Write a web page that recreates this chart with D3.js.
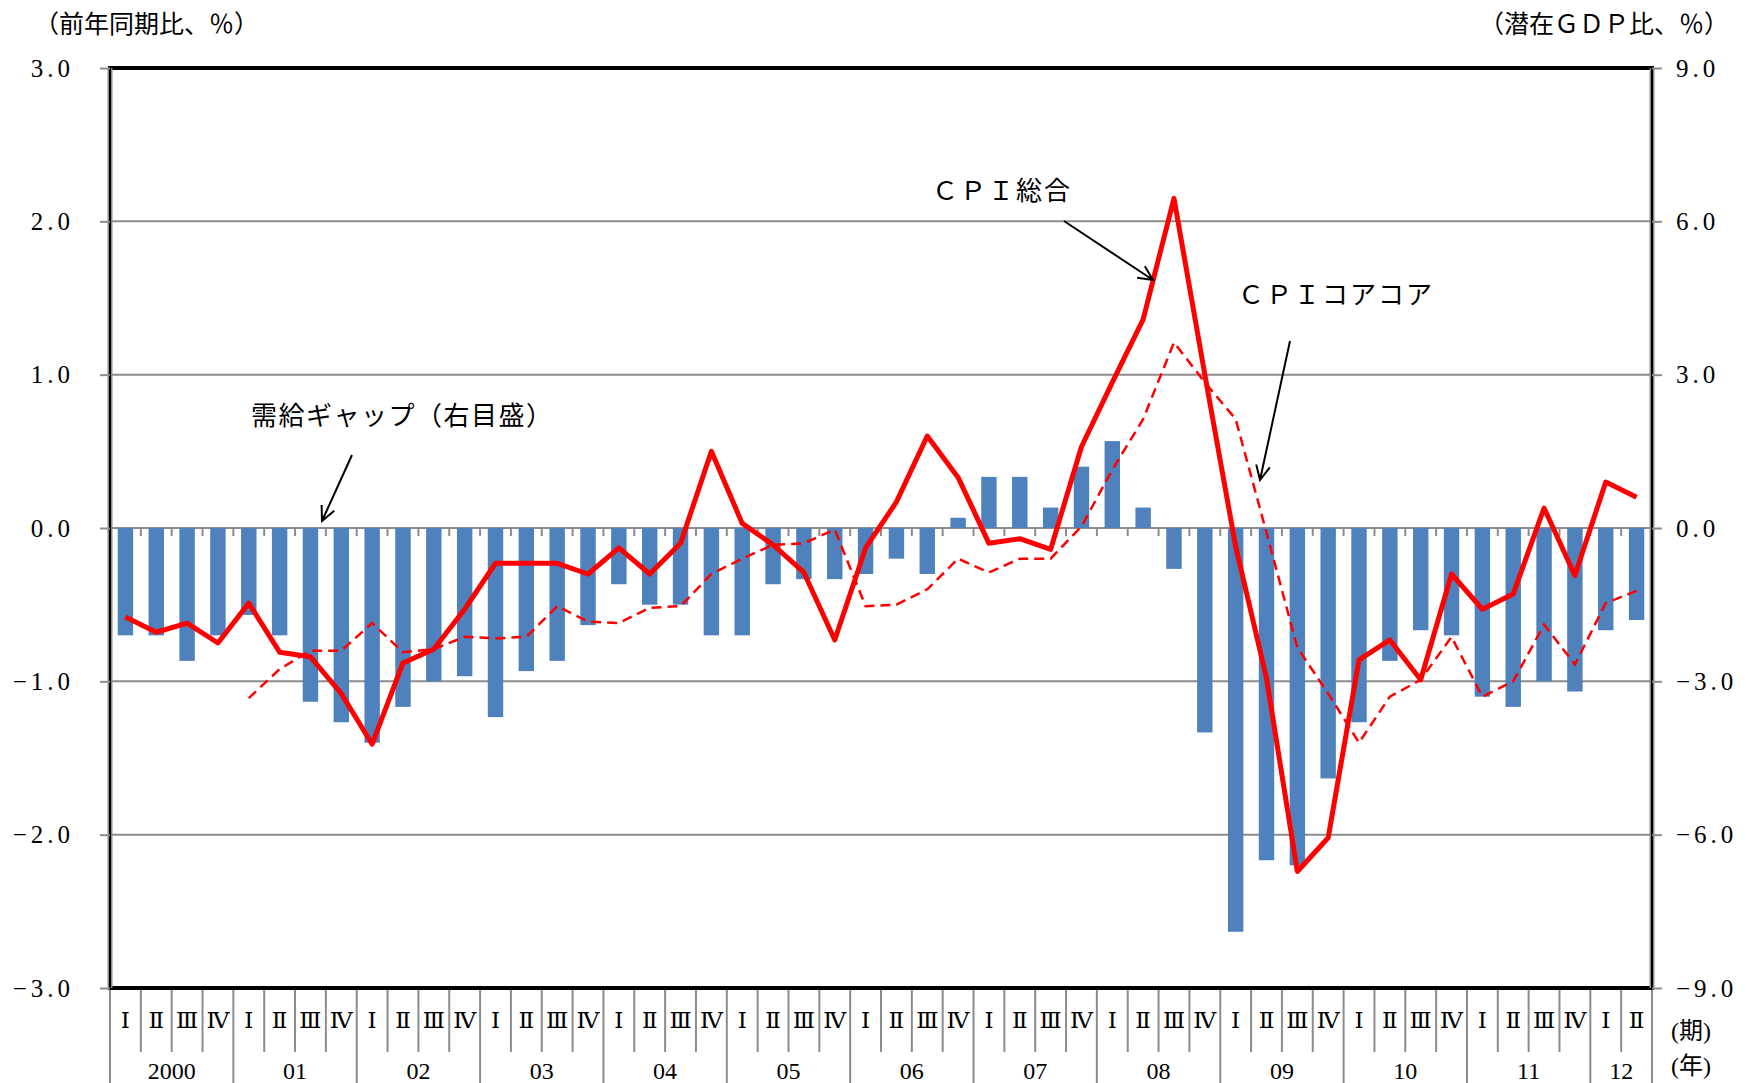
<!DOCTYPE html>
<html>
<head>
<meta charset="utf-8">
<script src="https://cdn.jsdelivr.net/npm/d3@7"></script>
<style>
body { margin: 0; background: #fff; }
svg { display: block; font-family: "Liberation Serif", "Noto Sans CJK JP", serif; }
</style>
</head>
<body>
<svg id="chart" width="1749" height="1083"></svg>
<script>
// years on the axis, quarters inside each year
var years = ['2000', '01', '02', '03', '04', '05', '06', '07', '08', '09', '10', '11', '12'];
var quarterNames = ['Ⅰ', 'Ⅱ', 'Ⅲ', 'Ⅳ'];

// 需給ギャップ (right axis, % of potential GDP)
var demandGap = [-2.1, -2.1, -2.6, -2.1, -1.7, -2.1, -3.4, -3.8, -4.2, -3.5, -3.0, -2.9,
                 -3.7, -2.8, -2.6, -1.9, -1.1, -1.5, -1.5, -2.1, -2.1, -1.1, -1.0, -1.0,
                 -0.9, -0.6, -0.9, 0.2, 1.0, 1.0, 0.4, 1.2, 1.7, 0.4, -0.8, -4.0,
                 -7.9, -6.5, -6.6, -4.9, -3.8, -2.6, -2.0, -2.1, -3.3, -3.5, -3.0, -3.2,
                 -2.0, -1.8];

// CPI総合 (left axis, y/y %)
var cpiTotal = [-0.58, -0.68, -0.62, -0.75, -0.49, -0.81, -0.84, -1.08, -1.41, -0.88, -0.79, -0.53,
                -0.23, -0.23, -0.23, -0.30, -0.13, -0.30, -0.10, 0.50, 0.03, -0.11, -0.29, -0.73,
                -0.13, 0.17, 0.60, 0.33, -0.10, -0.07, -0.14, 0.53, 0.95, 1.36, 2.15, 1.00,
                -0.12, -0.98, -2.24, -2.02, -0.86, -0.73, -0.99, -0.30, -0.53, -0.43, 0.13, -0.31,
                0.30, 0.20];

// CPIコアコア (left axis, y/y %), starts 2001
var cpiCoreCore = [null, null, null, null, -1.11, -0.92, -0.80, -0.80, -0.62, -0.81, -0.79, -0.71,
                   -0.72, -0.71, -0.51, -0.61, -0.62, -0.52, -0.51, -0.30, -0.20, -0.11, -0.10, -0.01,
                   -0.51, -0.50, -0.40, -0.20, -0.29, -0.20, -0.20, 0.01, 0.38, 0.71, 1.21, 0.95,
                   0.71, -0.03, -0.78, -1.08, -1.40, -1.10, -0.99, -0.71, -1.10, -1.00, -0.63, -0.89,
                   -0.49, -0.41];

var leftTicks = [-3, -2, -1, 0, 1, 2, 3];
var rightTicks = [-9, -6, -3, 0, 3, 6, 9];

var categories = [];
years.forEach(function(y) {
    quarterNames.forEach(function(q, qi) {
        if (categories.length < demandGap.length)
            categories.push({ year: y, q: q, qi: qi, idx: categories.length });
    });
});

var svg = d3.select('#chart');
var plotLeft = 110, plotRight = 1652, plotTop = 68, plotBottom = 988;

var x = d3.scaleBand()
    .domain(categories.map(function(d) { return d.idx; }))
    .range([plotLeft, plotRight])
    .paddingInner(0.5)
    .paddingOuter(0.25);
var half = (x.step() - x.bandwidth()) / 2;
function cx(i) { return x(i) + x.bandwidth() / 2; }

var yL = d3.scaleLinear().domain([-3, 3]).range([plotBottom, plotTop]);
var yR = d3.scaleLinear().domain([-9, 9]).range([plotBottom, plotTop]);
var fmt = d3.format('.1f');

// gridlines
svg.append('g').selectAll('line')
    .data(leftTicks.filter(function(d) { return d > -3 && d < 3; }))
    .enter().append('line')
    .attr('x1', plotLeft).attr('x2', plotRight)
    .attr('y1', function(d) { return yL(d); })
    .attr('y2', function(d) { return yL(d); })
    .attr('stroke', '#8c8c8c').attr('stroke-width', 2);

// small ticks on the zero line, at category boundaries
svg.append('g').selectAll('line')
    .data(categories.slice(1))
    .enter().append('line')
    .attr('x1', function(d) { return x(d.idx) - half; })
    .attr('x2', function(d) { return x(d.idx) - half; })
    .attr('y1', yL(0)).attr('y2', yL(0) + 8)
    .attr('stroke', '#8c8c8c').attr('stroke-width', 2);

// bars
svg.append('g').selectAll('rect')
    .data(demandGap)
    .enter().append('rect')
    .attr('x', function(d, i) { return x(i); })
    .attr('width', x.bandwidth())
    .attr('y', function(d) { return Math.min(yR(d), yR(0)); })
    .attr('height', function(d) { return Math.abs(yR(d) - yR(0)); })
    .attr('fill', '#4f81bd');

// lines
var line = d3.line()
    .defined(function(d) { return d != null; })
    .x(function(d, i) { return cx(i); })
    .y(function(d) { return yL(d); });

svg.append('path')
    .attr('d', line(cpiCoreCore))
    .attr('fill', 'none')
    .attr('stroke', '#ff0000')
    .attr('stroke-width', 2.5)
    .attr('stroke-dasharray', '10,6');

svg.append('path')
    .attr('d', line(cpiTotal))
    .attr('fill', 'none')
    .attr('stroke', '#ff0000')
    .attr('stroke-width', 5)
    .attr('stroke-linejoin', 'round');

// frame
svg.append('line').attr('x1', plotLeft - 2).attr('x2', plotRight + 2).attr('y1', plotTop).attr('y2', plotTop)
    .attr('stroke', '#000').attr('stroke-width', 4);
svg.append('line').attr('x1', plotLeft - 2).attr('x2', plotRight + 2).attr('y1', plotBottom).attr('y2', plotBottom)
    .attr('stroke', '#000').attr('stroke-width', 4);
[plotLeft, plotRight].forEach(function(xx) {
    svg.append('line').attr('x1', xx).attr('x2', xx).attr('y1', plotTop).attr('y2', plotBottom)
        .attr('stroke', '#8c8c8c').attr('stroke-width', 5);
    svg.append('line').attr('x1', xx).attr('x2', xx).attr('y1', plotTop).attr('y2', plotBottom)
        .attr('stroke', '#000').attr('stroke-width', 2);
});

// y axes
var axL = svg.append('g').attr('transform', 'translate(' + plotLeft + ',0)')
    .call(d3.axisLeft(yL).tickValues(leftTicks).tickFormat(fmt).tickSize(10).tickPadding(26));
var axR = svg.append('g').attr('transform', 'translate(' + plotRight + ',0)')
    .call(d3.axisRight(yR).tickValues(rightTicks).tickFormat(fmt).tickSize(10).tickPadding(14));
[axL, axR].forEach(function(ax) {
    ax.select('.domain').remove();
    ax.selectAll('line').attr('stroke', '#8c8c8c').attr('stroke-width', 2);
    ax.selectAll('text')
        .attr('font-family', '"Liberation Serif", "Noto Sans CJK JP", serif')
        .attr('font-size', 25)
        .attr('letter-spacing', 4)
        .attr('fill', '#000');
});

// category axis
var catAxis = svg.append('g');
var bounds = categories.map(function(d) { return { x: x(d.idx) - half, yearStart: d.qi === 0 }; });
bounds.push({ x: x(categories.length - 1) + x.bandwidth() + half, yearStart: true });
catAxis.selectAll('line')
    .data(bounds)
    .enter().append('line')
    .attr('x1', function(d) { return d.x; })
    .attr('x2', function(d) { return d.x; })
    .attr('y1', plotBottom + 2)
    .attr('y2', function(d) { return d.yearStart ? 1083 : 1052; })
    .attr('stroke', '#8c8c8c').attr('stroke-width', 2);

catAxis.selectAll('text.q')
    .data(categories)
    .enter().append('text')
    .attr('class', 'q')
    .attr('x', function(d) { return cx(d.idx); })
    .attr('y', 1020)
    .attr('dy', '0.35em')
    .attr('text-anchor', 'middle')
    .attr('font-family', '"DejaVu Serif", "Noto Sans CJK JP", serif')
    .attr('font-size', 23)
    .text(function(d) { return d.q; });

var yearGroups = d3.groups(categories, function(d) { return d.year; });
catAxis.selectAll('text.y')
    .data(yearGroups)
    .enter().append('text')
    .attr('class', 'y')
    .attr('x', function(g) {
        var a = g[1][0].idx, b = g[1][g[1].length - 1].idx;
        return (x(a) - half + x(b) + x.bandwidth() + half) / 2;
    })
    .attr('y', 1071)
    .attr('dy', '0.35em')
    .attr('text-anchor', 'middle')
    .attr('font-size', 24)
    .text(function(g) { return g[0]; });

svg.append('text').attr('x', 1671).attr('y', 1031).attr('dy', '0.35em')
    .attr('font-size', 24).text('(期)');
svg.append('text').attr('x', 1671).attr('y', 1066).attr('dy', '0.35em')
    .attr('font-size', 24).text('(年)');

// axis titles
svg.append('text').attr('x', 34).attr('y', 24).attr('dy', '0.35em')
    .attr('font-size', 25).text('（前年同期比、％）');
svg.append('text').attr('x', 1729).attr('y', 24).attr('dy', '0.35em')
    .attr('text-anchor', 'end')
    .attr('font-size', 25).text('（潜在ＧＤＰ比、％）');

// annotations
function label(tx, ty, str, spacing) {
    svg.append('text').attr('x', tx).attr('y', ty).attr('dy', '0.35em')
        .attr('font-size', 26).attr('letter-spacing', spacing).text(str);
}
function arrow(x1, y1, x2, y2) {
    var a = Math.atan2(y2 - y1, x2 - x1), len = 16, spread = 0.45;
    var p = 'M' + x1 + ',' + y1 + 'L' + x2 + ',' + y2 +
        'M' + (x2 - len * Math.cos(a - spread)) + ',' + (y2 - len * Math.sin(a - spread)) +
        'L' + x2 + ',' + y2 +
        'L' + (x2 - len * Math.cos(a + spread)) + ',' + (y2 - len * Math.sin(a + spread));
    svg.append('path').attr('d', p).attr('fill', 'none').attr('stroke', '#000').attr('stroke-width', 2);
}
label(251, 416, '需給ギャップ（右目盛）', 1.5);
arrow(352, 455, 322, 521);
label(932, 191, 'ＣＰＩ総合', 2);
arrow(1064, 221, 1153, 280);
label(1238, 295, 'ＣＰＩコアコア', 2);
arrow(1290, 341, 1260, 480);
</script>
</body>
</html>
